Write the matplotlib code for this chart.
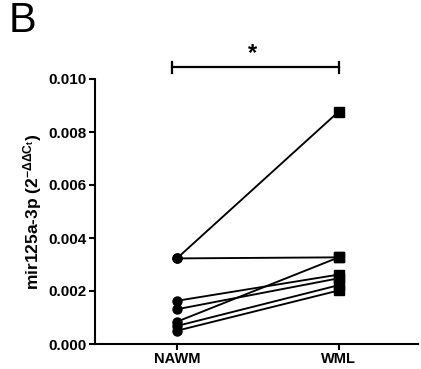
import matplotlib
matplotlib.use("Agg")
import matplotlib.pyplot as plt

plt.rcParams['font.family'] = ['Liberation Sans', 'DejaVu Sans']
plt.rcParams['mathtext.fontset'] = 'custom'
plt.rcParams['mathtext.rm'] = 'Liberation Sans:bold'
plt.rcParams['mathtext.it'] = 'Liberation Sans:bold'
plt.rcParams['mathtext.bf'] = 'Liberation Sans:bold'

categories = ['NAWM', 'WML']
nawm = [0.00323, 0.00323, 0.00163, 0.00131, 0.00084, 0.00068, 0.00050]
wml = [0.00877, 0.00327, 0.00262, 0.00248, 0.00327, 0.00222, 0.00202]
yticks = [0.000, 0.002, 0.004, 0.006, 0.008, 0.010]

W, H = 421, 369
fig = plt.figure(figsize=(W/100, H/100), dpi=100)
ax = fig.add_axes([95/W, 1-344/H, (418-95)/W, (344-79)/H])

for a, b in zip(nawm, wml):
    ax.plot([0, 1], [a, b], color='black', lw=1.35, zorder=2)
ax.plot([0]*len(nawm), nawm, 'o', color='black', ms=6.5, zorder=3)
ax.plot([1]*len(wml), wml, 's', color='black', ms=6.5, zorder=3)

ax.set_xlim(-0.506, 1.49)
ax.set_ylim(0, 0.010)
ax.set_xticks([0, 1])
ax.set_xticklabels(categories, fontsize=10.5, fontweight='bold')
ax.set_yticks(yticks)
ax.set_yticklabels([f'{v:.3f}' for v in yticks], fontsize=11, fontweight='bold')
ax.tick_params(direction='out', length=4, width=1.5, pad=2)
for s in ['top', 'right']:
    ax.spines[s].set_visible(False)
for s in ['left', 'bottom']:
    ax.spines[s].set_linewidth(1.5)
ax.set_ylabel(r'mir125a-3p (2$^{-\Delta\Delta C_t}$)', fontsize=12.5, fontweight='bold', labelpad=3)

# significance bar
ybar = 0.01044
cap = 0.00022
ax.plot([-0.03, 1.0], [ybar, ybar], color='black', lw=1.6, clip_on=False)
ax.plot([-0.03, -0.03], [ybar-cap, ybar+cap], color='black', lw=1.6, clip_on=False)
ax.plot([1.0, 1.0], [ybar-cap, ybar+cap], color='black', lw=1.6, clip_on=False)
ax.text(0.465, 0.01095, '*', ha='center', va='center', fontsize=17, fontweight='bold')

fig.text(9/W, 1-1/H, 'B', fontsize=30, va='top', ha='left')

fig.savefig('out.png', dpi=100)
